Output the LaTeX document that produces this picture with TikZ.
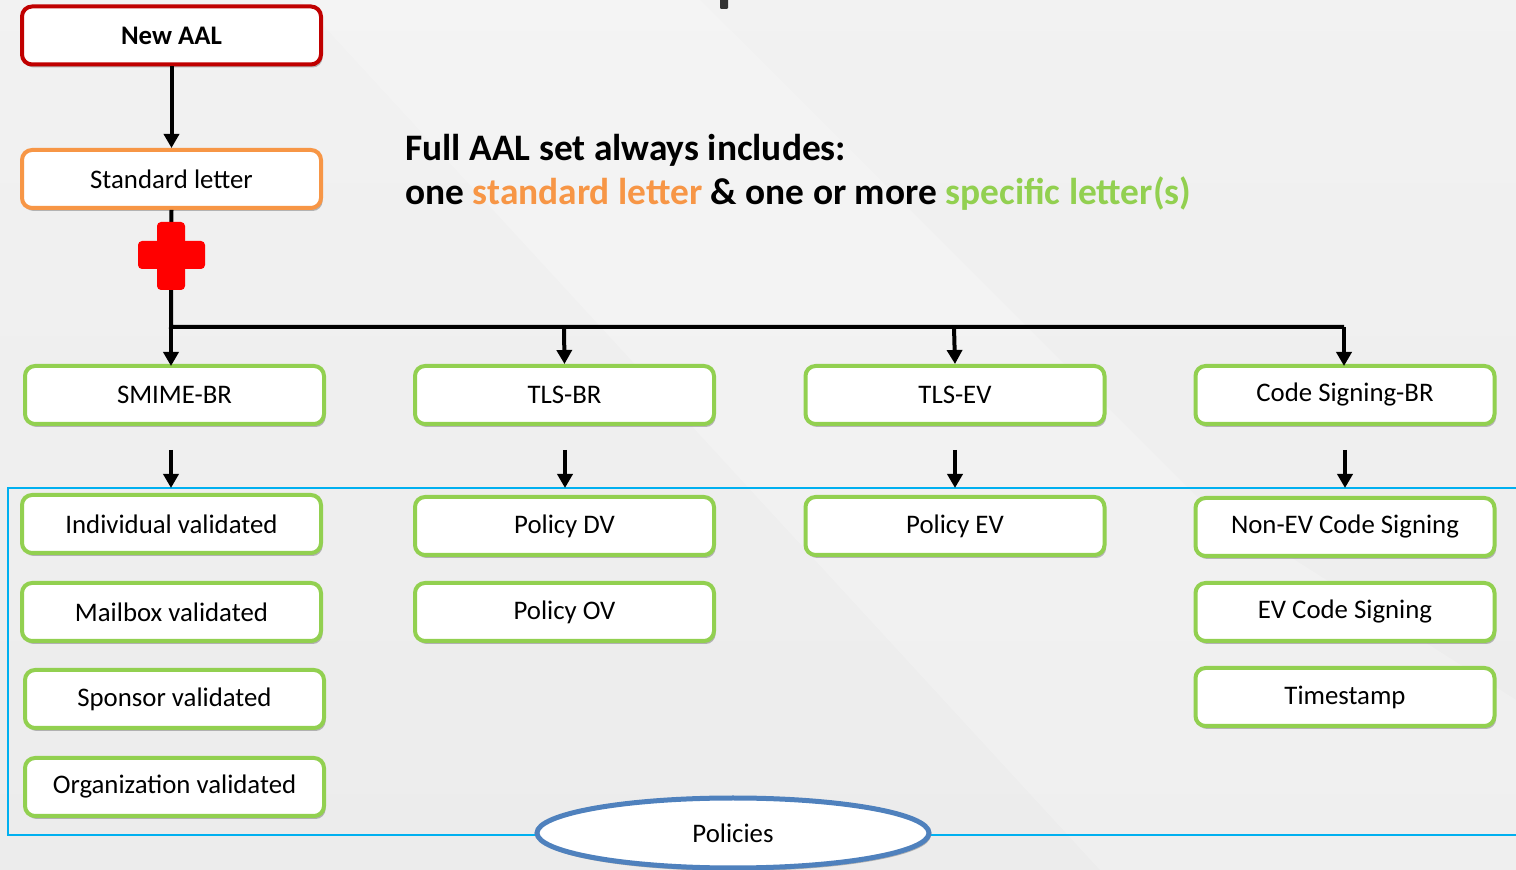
\documentclass[tikz,border=0pt]{standalone}
\usepackage{fontspec}
\setmainfont{Carlito}
\usetikzlibrary{arrows.meta,shadows,shapes.geometric}
\definecolor{bggray}{RGB}{236,236,236}
\definecolor{aalred}{RGB}{192,0,0}
\definecolor{stdorange}{RGB}{247,150,70}
\definecolor{specgreen}{RGB}{146,208,80}
\definecolor{polblue}{RGB}{79,129,189}
\definecolor{frameblue}{RGB}{0,176,240}
\definecolor{markgray}{RGB}{50,50,50}
\tikzset{
  boxbase/.style={rectangle, rounded corners=5pt, fill=white, line width=2pt,
    minimum width=149.5pt, minimum height=29pt, inner sep=0pt,
    font=\fontsize{13.4}{16}\selectfont, text=black,
    drop shadow={shadow xshift=0.8pt, shadow yshift=-1.5pt, opacity=0.25, fill=black}},
  aalbox/.style={boxbase, draw=aalred, font=\fontsize{13.4}{16}\selectfont\bfseries},
  stdbox/.style={boxbase, draw=stdorange},
  specbox/.style={boxbase, draw=specgreen},
  conn/.style={line width=2pt, draw=black},
  arr/.style={conn, -{Triangle[width=7.5pt,length=7pt]}},
}
\begin{document}
\begin{tikzpicture}[x=0.5pt,y=-0.5pt]
\useasboundingbox (0,0) rectangle (1516,870);
\shade[top color=bggray!70, bottom color=bggray] (0,0) rectangle (1516,870);
\fill[white, opacity=0.2] (300,0) -- (700,0) -- (1200,500) -- (1516,700) -- (1516,870) -- (1100,870) -- cycle;

% top mark
\fill[markgray, rounded corners=0.5pt] (720,-2) rectangle (728,9);

% frame
\draw[frameblue, line width=1pt] (1520,488) -- (8,488) -- (8,835) -- (1520,835);

% nodes
\node[aalbox] (new) at (171.5,35.5) {New AAL};
\node[stdbox] (std) at (171.5,179) {Standard letter};

\node[specbox] (smime) at (174.5,395) {SMIME-BR};
\node[specbox] (tlsbr) at (564.5,395) {TLS-BR};
\node[specbox] (tlsev) at (955,395) {TLS-EV};
\node[specbox] (csbr) at (1345,395) {Code Signing-BR};

\node[specbox] (ind) at (171.5,524) {Individual validated};
\node[specbox] (mail) at (171.5,612) {Mailbox validated};
\node[specbox] (spon) at (174.5,699) {Sponsor validated};
\node[specbox] (org) at (174.5,787) {Organization validated};

\node[specbox] (dv) at (564.5,526) {Policy DV};
\node[specbox] (ov) at (564.5,612) {Policy OV};

\node[specbox] (pev) at (955,526) {Policy EV};

\node[specbox] (nonev) at (1345,527) {Non-EV Code Signing};
\node[specbox] (evcs) at (1345,612) {EV Code Signing};
\node[specbox] (ts) at (1345,697) {Timestamp};

\node[ellipse, draw=polblue, line width=2.5pt, fill=white, minimum width=196pt, minimum height=35pt,
  font=\fontsize{13.4}{16}\selectfont,
  drop shadow={shadow xshift=0.8pt, shadow yshift=-1.5pt, opacity=0.25, fill=black}] (pol) at (733,833) {Policies};

% title
\node[anchor=west, font=\fontsize{18.7}{22}\selectfont\bfseries, align=left, inner sep=0pt] (title) at (405,172)
  {Full AAL set always includes:\\[0pt]
   one \textcolor{stdorange}{standard letter} \& one or more \textcolor{specgreen}{specific letter(s)}};

% connectors
\draw[arr] (new.south) -- (std.north);
\coordinate (bus) at (171,327);
\draw[conn] (std.south) -- (bus) -- (1344,327);
\draw[arr] (bus) -- (171,366);
\draw[arr] (564,327) -- (tlsbr.north);
\draw[arr] (954,327) -- (tlsev.north);
\draw[arr] (1344,327) -- (1344,366);

% red cross
\fill[red, rounded corners=2pt] (157,222) rectangle (185,290);
\fill[red, rounded corners=2pt] (138,241) rectangle (205,269);

% short arrows
\coordinate (s1) at (171,450); \coordinate (e1) at (171,488);
\coordinate (s2) at (565,450); \coordinate (e2) at (565,488);
\coordinate (s3) at (955,450); \coordinate (e3) at (955,488);
\coordinate (s4) at (1345,450); \coordinate (e4) at (1345,488);
\draw[arr] (s1) -- (e1);
\draw[arr] (s2) -- (e2);
\draw[arr] (s3) -- (e3);
\draw[arr] (s4) -- (e4);
\end{tikzpicture}
\end{document}
